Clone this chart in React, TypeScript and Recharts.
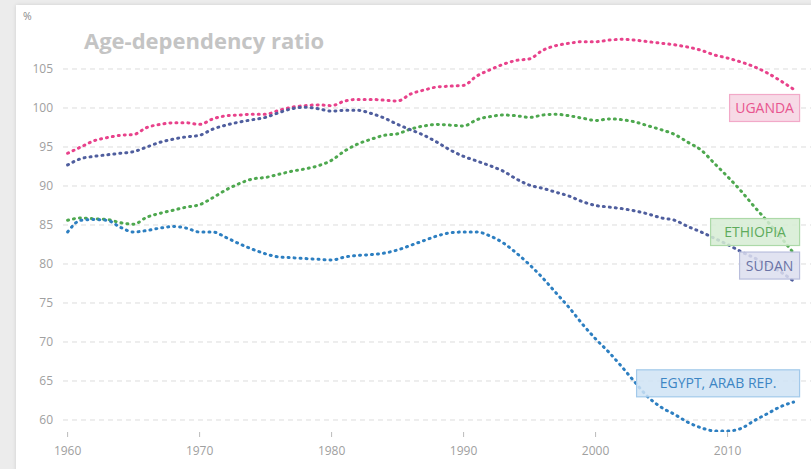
import React from "react";
import {
  LineChart,
  Line,
  XAxis,
  YAxis,
  ReferenceLine,
  ReferenceDot,
} from "recharts";

const years = [
  1960, 1961, 1962, 1963, 1964, 1965, 1966, 1967, 1968, 1969,
  1970, 1971, 1972, 1973, 1974, 1975, 1976, 1977, 1978, 1979,
  1980, 1981, 1982, 1983, 1984, 1985, 1986, 1987, 1988, 1989,
  1990, 1991, 1992, 1993, 1994, 1995, 1996, 1997, 1998, 1999,
  2000, 2001, 2002, 2003, 2004, 2005, 2006, 2007, 2008, 2009,
  2010, 2011, 2012, 2013, 2014, 2015,
];

const uganda = [
  94.2, 95.0, 95.8, 96.2, 96.5, 96.6, 97.5, 97.9, 98.1, 98.1,
  97.9, 98.6, 99.0, 99.1, 99.2, 99.2, 99.7, 100.1, 100.3, 100.4,
  100.3, 100.9, 101.1, 101.1, 101.0, 100.9, 101.8, 102.3, 102.7, 102.8,
  102.9, 104.1, 104.9, 105.6, 106.1, 106.3, 107.4, 108.0, 108.3, 108.5,
  108.5, 108.7, 108.8, 108.7, 108.5, 108.3, 108.1, 107.8, 107.4, 106.8,
  106.4, 105.9, 105.3, 104.5, 103.5, 102.4,
];

const sudan = [
  92.7, 93.5, 93.8, 94.0, 94.2, 94.4, 95.0, 95.6, 96.0, 96.3,
  96.5, 97.3, 97.8, 98.2, 98.5, 98.8, 99.4, 99.9, 100.1, 99.9,
  99.6, 99.7, 99.7, 99.3, 98.7, 97.9, 97.2, 96.5, 95.6, 94.6,
  93.8, 93.2, 92.6, 91.9, 90.9, 90.1, 89.7, 89.2, 88.7, 88.0,
  87.5, 87.3, 87.1, 86.8, 86.4, 85.9, 85.6, 84.8, 84.1, 83.3,
  82.5, 81.6, 80.8, 79.9, 79.0, 77.8,
];

const ethiopia = [
  85.6, 85.9, 85.8, 85.7, 85.3, 85.1, 86.0, 86.5, 86.9, 87.3,
  87.6, 88.5, 89.5, 90.3, 90.9, 91.1, 91.5, 91.9, 92.2, 92.6,
  93.3, 94.5, 95.4, 96.0, 96.5, 96.7, 97.3, 97.7, 97.9, 97.8,
  97.7, 98.5, 98.9, 99.1, 99.0, 98.8, 99.1, 99.2, 99.0, 98.7,
  98.4, 98.6, 98.5, 98.2, 97.7, 97.2, 96.6, 95.6, 94.6, 92.9,
  91.2, 89.4, 87.4, 85.5, 83.5, 81.4,
];

const egypt = [
  84.1, 85.6, 85.7, 85.6, 84.7, 84.1, 84.3, 84.6, 84.8, 84.6,
  84.1, 84.1, 83.4, 82.6, 81.9, 81.3, 80.9, 80.8, 80.7, 80.6,
  80.5, 80.9, 81.1, 81.2, 81.4, 81.8, 82.4, 83.0, 83.6, 84.0,
  84.1, 84.1, 83.6, 82.7, 81.4, 79.9, 78.2, 76.3, 74.4, 72.3,
  70.4, 68.7, 66.8, 64.8, 62.9, 61.6, 60.7, 59.7, 59.0, 58.6,
  58.6, 58.9, 59.9, 60.8, 61.7, 62.3,
];

const yTicks = [60, 65, 70, 75, 80, 85, 90, 95, 100, 105];
const xTicks = [1960, 1970, 1980, 1990, 2000, 2010];

// label name, value its box is centred on
const labelNames = ["UGANDA", "ETHIOPIA", "SUDAN", "EGYPT, ARAB REP."];
const labelAt = [100, 84.1, 79.8, 64.7];

const series = [
  { key: "uganda", color: "#e8428b", fill: "#f6d3e2", border: "#f2a9c8", text: "#e8558f", w: 70 },
  { key: "ethiopia", color: "#4ea84f", fill: "#d6ecd4", border: "#acd9a8", text: "#5eab5c", w: 89 },
  { key: "sudan", color: "#4f5e9e", fill: "#dcdeef", border: "#b9bedc", text: "#6a73a6", w: 60 },
  { key: "egypt", color: "#2d7fc1", fill: "#cfe3f4", border: "#a2c9ea", text: "#3d86c4", w: 163 },
];

const data = years.map((y, i) => ({
  year: y,
  uganda: uganda[i],
  sudan: sudan[i],
  ethiopia: ethiopia[i],
  egypt: egypt[i],
}));

const font = "'Open Sans', sans-serif";

function LabelBox(props: any) {
  const { cx, cy, name, s } = props;
  const h = 27;
  const right = cx + 6;
  return (
    <g>
      <rect
        x={right - s.w}
        y={cy - h / 2}
        width={s.w}
        height={h}
        fill={s.fill}
        fillOpacity={0.85}
        stroke={s.border}
        strokeWidth={1.2}
      />
      <text
        x={right - s.w / 2}
        y={cy + 5}
        textAnchor="middle"
        fontFamily={font}
        fontSize={14}
        fill={s.text}
      >
        {name}
      </text>
    </g>
  );
}

export default function App() {
  return (
    <div
      style={{
        position: "absolute",
        left: 0,
        top: 0,
        width: 811,
        height: 469,
        background: "#ececec",
        overflow: "hidden",
      }}
    >
      <div
        style={{
          position: "absolute",
          left: 16,
          top: 5,
          width: 800,
          height: 470,
          background: "#fff",
          boxShadow: "0 0 4px rgba(0,0,0,0.12)",
        }}
      />
      <div style={{ position: "absolute", left: 23, top: 9, fontFamily: font, fontSize: 10.5, color: "#888" }}>
        %
      </div>
      <div
        style={{
          position: "absolute",
          left: 84,
          top: 25,
          fontFamily: font,
          fontWeight: 700,
          fontSize: 22,
          color: "#c4c4c4",
          whiteSpace: "nowrap",
        }}
      >
        Age-dependency ratio
      </div>
      <div style={{ position: "absolute", left: 0, top: 0 }}>
        <LineChart
          width={811}
          height={469}
          data={data}
          margin={{ top: 30, right: 0, bottom: 7, left: 13 }}
        >
          {yTicks.map((t) => (
            <ReferenceLine
              key={t}
              y={t}
              stroke="#dcdcdc"
              strokeDasharray="5 4"
            />
          ))}
          <XAxis
            dataKey="year"
            type="number"
            domain={[1959.65, 2016.32]}
            allowDataOverflow
            ticks={xTicks}
            axisLine={false}
            tickLine={{ stroke: "#bbb" }}
            tickSize={5}
            tickMargin={9}
            tick={{ fill: "#a0a0a0", fontSize: 12, fontFamily: font }}
            height={30}
          />
          <YAxis
            type="number"
            domain={[58.46, 110]}
            allowDataOverflow
            ticks={yTicks}
            axisLine={false}
            tickLine={false}
            tickSize={0}
            tickMargin={10}
            tick={{ fill: "#a0a0a0", fontSize: 12, fontFamily: font }}
            width={50}
          />
          {series.map((s) => (
            <Line
              key={s.key}
              dataKey={s.key}
              type="monotone"
              stroke={s.color}
              strokeWidth={3}
              strokeDasharray="1 5"
              strokeLinecap="round"
              dot={false}
              activeDot={false}
              isAnimationActive={false}
            />
          ))}
          {labelNames.map((n, i) => (
            <ReferenceDot
              key={n}
              x={2015}
              y={labelAt[i]}
              ifOverflow="visible"
              shape={(p: any) => <LabelBox {...p} name={n} s={series[i]} />}
            />
          ))}
        </LineChart>
      </div>
    </div>
  );
}
